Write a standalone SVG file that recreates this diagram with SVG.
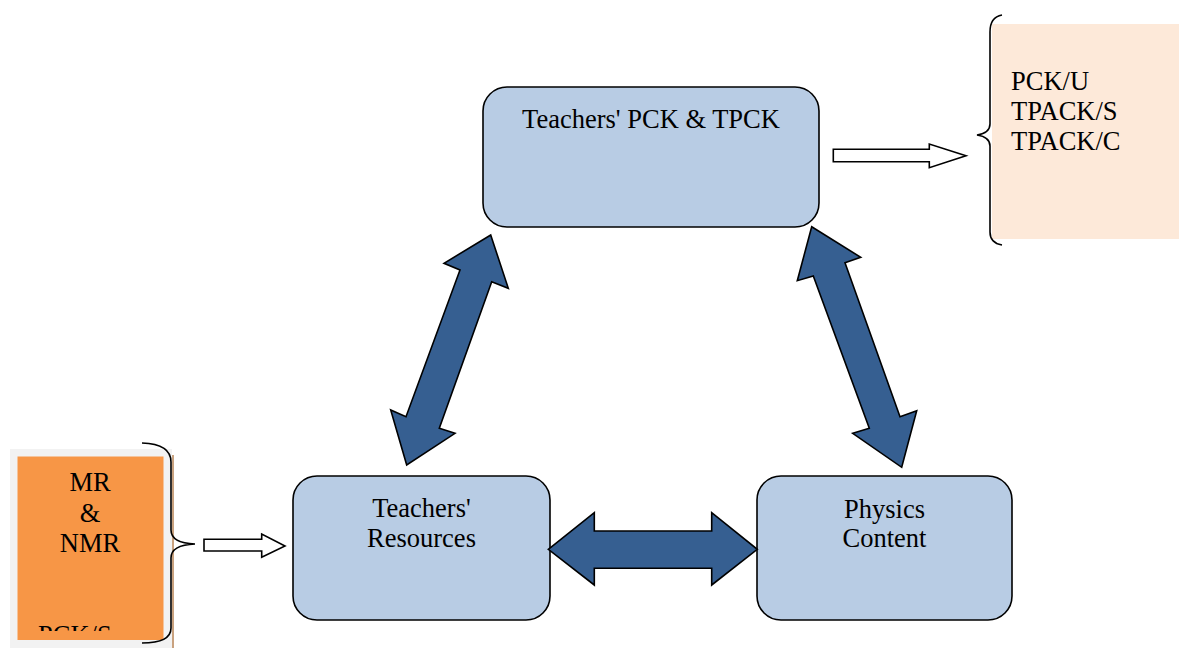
<svg xmlns="http://www.w3.org/2000/svg" width="1179" height="648" viewBox="0 0 1179 648">
  <style>
    .node { fill: #B8CCE4; stroke: #000; stroke-width: 1.6; }
    .lbl { font-family: "Liberation Serif", "Times New Roman", serif; font-size: 26.5px; fill: #000; }
    .mid { text-anchor: middle; }
    .big { fill: #365F91; stroke: #000; stroke-width: 1.6; stroke-linejoin: miter; }
    .small { fill: #fff; stroke: #000; stroke-width: 1.6; }
    .brace { fill: none; stroke: #000; stroke-width: 1.6; }
  </style>
  <defs>
    <clipPath id="clipS">
      <rect x="17" y="456" width="147" height="175"/>
    </clipPath>
  </defs>
  <rect width="1179" height="648" fill="#fff"/>

  <g id="outcomes">
    <rect x="992" y="24" width="187" height="215" fill="#FDE9D9"/>
    <path class="brace" d="M1002,15 Q990,17 990,32 L990,124 Q990,133 977,135 Q990,137 990,146 L990,232 Q990,243 1002,245"/>
    <text class="lbl" x="1011" y="90">PCK/U</text>
    <text class="lbl" x="1011" y="120">TPACK/S</text>
    <text class="lbl" x="1011" y="150">TPACK/C</text>
  </g>

  <g id="materials">
    <rect x="10" y="449" width="162" height="199" fill="#F2F2F2"/>
    <rect x="172" y="455" width="2" height="193" fill="#C9A27F"/>
    <rect x="17.5" y="456.5" width="146" height="183.5" fill="#F79646"/>
    <text class="lbl mid" x="90" y="491">MR</text>
    <text class="lbl mid" x="90" y="522">&amp;</text>
    <text class="lbl mid" x="90" y="552">NMR</text>
    <text class="lbl" x="38" y="644" clip-path="url(#clipS)">PCK/S</text>
    <path class="brace" d="M142,443 Q171,444 171,462 L171,530 Q171,543 195,544 Q171,545 171,558 L171,628 Q171,643 142,643"/>
  </g>

  <g id="pck-tpck">
    <rect class="node" x="483" y="87" width="336" height="140" rx="24"/>
    <text class="lbl mid" x="651" y="128">Teachers' PCK &amp; TPCK</text>
  </g>

  <g id="resources">
    <rect class="node" x="293" y="476" width="257" height="144" rx="24"/>
    <text class="lbl mid" x="421.5" y="517">Teachers'</text>
    <text class="lbl mid" x="421.5" y="547">Resources</text>
  </g>

  <g id="content">
    <rect class="node" x="757" y="476" width="255" height="144" rx="24"/>
    <text class="lbl mid" x="884.5" y="518">Physics</text>
    <text class="lbl mid" x="884.5" y="547">Content</text>
  </g>

  <g id="connectors">
    <polygon class="big" points="490.7,235 508.3,288.3 491.7,281.7 439.3,428.3 455,433.3 406.7,465 390.7,410 406,416.7 460,270 444,263.3"/>
    <polygon class="big" points="811.7,226.7 860.7,257.3 845,262.7 900,416.7 916.7,410.7 901.7,467.3 852.7,433.3 869.3,428.3 813.3,276 797.3,280.7"/>
    <polygon class="big" points="548.3,549.3 594.3,512.7 594.3,531 711.7,531 711.7,512.7 757.3,549.3 711.7,585 711.7,568.3 594.3,568.3 594.3,585"/>
    <polygon class="small" points="833.3,149.3 929.3,149.3 929.3,144 966,155.7 929.3,167.7 929.3,161.7 833.3,161.7"/>
    <polygon class="small" points="204,539.3 261.7,539.3 261.7,534 285,546 261.7,557.3 261.7,551 204,551"/>
  </g>
</svg>
